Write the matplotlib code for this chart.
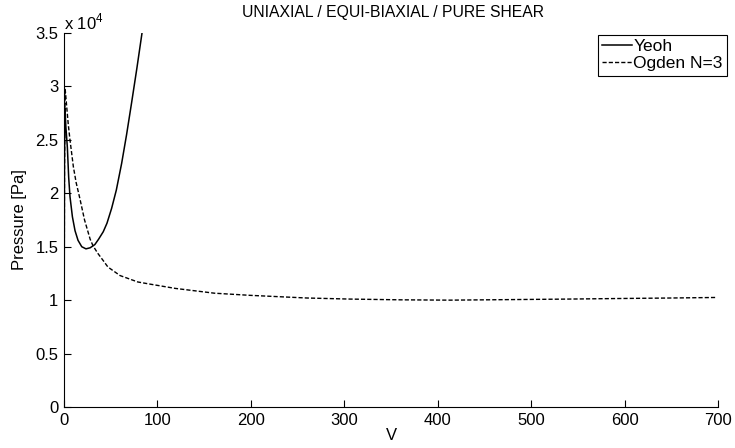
import matplotlib
matplotlib.use("Agg")
import matplotlib.pyplot as plt
from matplotlib.ticker import FuncFormatter

plt.rcParams["font.family"] = ["Liberation Sans", "DejaVu Sans"]
plt.rcParams["mathtext.fontset"] = "custom"
plt.rcParams["mathtext.rm"] = "Liberation Sans"

# Yeoh model: volume vs pressure
V_yeoh = [0, 0.5, 1, 2, 3.6, 5, 6.4, 9, 11.8, 15, 19, 23.5, 28, 33, 37,
          42, 46, 51, 56, 61.7, 67, 72.4, 78, 83.5]
p_yeoh = [0, 2.3e4, 2.8e4, 2.62e4, 2.43e4, 2.15e4, 1.97e4, 1.78e4, 1.65e4,
          1.56e4, 1.50e4, 1.48e4, 1.49e4, 1.52e4, 1.57e4, 1.64e4, 1.72e4,
          1.86e4, 2.03e4, 2.28e4, 2.55e4, 2.85e4, 3.17e4, 3.5e4]

# Ogden N=3 model
V_ogden = [0, 0.5, 1.2, 3, 4.5, 6.4, 10, 13, 17, 22, 28, 31, 36, 42, 47,
           60, 79, 92, 119, 161, 199, 260, 306, 360, 413, 477, 540, 591,
           650, 698]
p_ogden = [0, 2.2e4, 2.98e4, 2.8e4, 2.65e4, 2.5e4, 2.25e4, 2.1e4, 1.95e4,
           1.75e4, 1.57e4, 1.51e4, 1.44e4, 1.37e4, 1.31e4, 1.23e4, 1.17e4,
           1.15e4, 1.11e4, 1.065e4, 1.045e4, 1.02e4, 1.01e4, 1.003e4,
           1.0e4, 1.005e4, 1.01e4, 1.015e4, 1.02e4, 1.025e4]

x_ticks = [0, 100, 200, 300, 400, 500, 600, 700]
y_ticks = [0, 0.5e4, 1e4, 1.5e4, 2e4, 2.5e4, 3e4, 3.5e4]

W, H = 735, 448
fig = plt.figure(figsize=(W / 100, H / 100), dpi=100)
ax = fig.add_axes([64 / W, 1 - 407 / H, (718 - 64) / W, (407 - 33) / H])

ax.plot(V_yeoh, p_yeoh, color="black", lw=1.1, label="Yeoh")
ax.plot(V_ogden, p_ogden, color="black", lw=1.0, ls=(0, (3, 1.5)),
        label="Ogden N=3")

ax.set_xlim(0, 700)
ax.set_ylim(0, 3.5e4)
ax.set_xticks(x_ticks)
ax.set_yticks(y_ticks)
ax.yaxis.set_major_formatter(FuncFormatter(lambda v, _: f"{v / 1e4:g}"))
ax.tick_params(direction="in", length=5, width=0.8, labelsize=12, pad=4)
for s in ("top", "right"):
    ax.spines[s].set_visible(False)
for s in ("left", "bottom"):
    ax.spines[s].set_linewidth(0.8)
    ax.spines[s].set_color("black")

ax.set_xlabel("V", fontsize=12, labelpad=0)
ax.set_ylabel("Pressure [Pa]", fontsize=12, labelpad=6)

fig.text(64 / W, 1 - 29 / H, r"x 10$^{\mathrm{4}}$", fontsize=12,
         va="baseline", ha="left")
fig.text(393 / W, 1 - 17 / H, "UNIAXIAL / EQUI-BIAXIAL / PURE SHEAR",
         fontsize=11.3, ha="center", va="baseline")

leg = ax.legend(loc="upper right", bbox_to_anchor=(727 / W, 1 - 35 / H),
                bbox_transform=fig.transFigure, fontsize=12.5, fancybox=False,
                edgecolor="black", framealpha=1, borderaxespad=0,
                handlelength=1.7, handletextpad=0.1, borderpad=0.25,
                labelspacing=0.1)
leg.get_frame().set_linewidth(0.8)

fig.savefig("out.png", dpi=100)
